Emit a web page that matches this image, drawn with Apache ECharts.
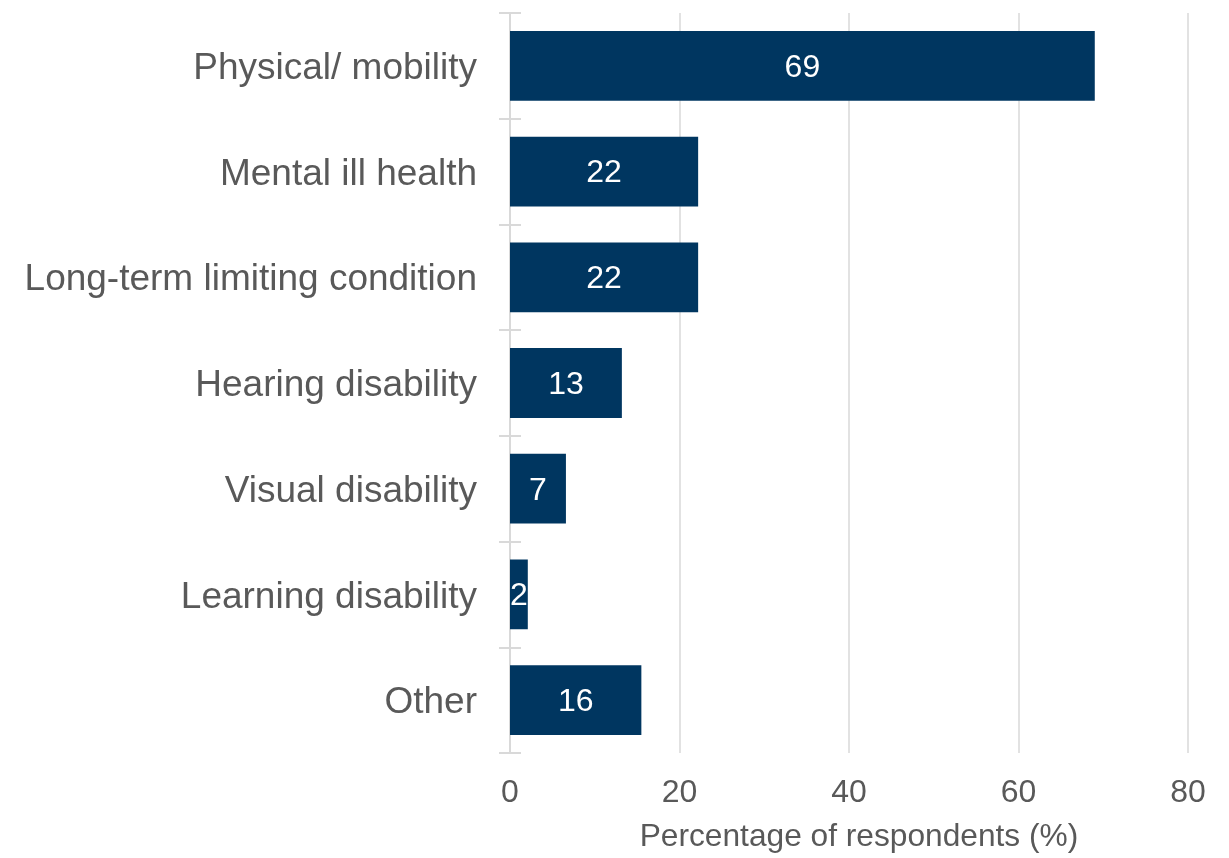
<!DOCTYPE html>
<html>
<head>
<meta charset="utf-8">
<script src="https://cdn.jsdelivr.net/npm/echarts@6/dist/echarts.min.js"></script>
<style>
html,body{margin:0;padding:0;background:#fff;}
#chart{width:1229px;height:858px;}
</style>
</head>
<body>
<div id="chart"></div>
<script>
const categories = ["Physical/ mobility","Mental ill health","Long-term limiting condition","Hearing disability","Visual disability","Learning disability","Other"];
const values = [69.0, 22.2, 22.2, 13.2, 6.6, 2.1, 15.5];
const valueLabels = ["69","22","22","13","7","2","16"];
const xTicks = [0, 20, 40, 60, 80];
const xAxisName = "Percentage of respondents (%)";

const font = '"Liberation Sans", Arial, sans-serif';
const chart = echarts.init(document.getElementById('chart'), null, {renderer:'canvas'});
chart.setOption({
  animation:false,
  grid:{left:510, right:41, top:13, bottom:102, containLabel:false},
  xAxis:{
    type:'value', min:xTicks[0], max:xTicks[xTicks.length-1], interval:20,
    axisLine:{show:false}, axisTick:{show:false},
    splitLine:{show:true, lineStyle:{color:'#d9d9d9', width:1.5}},
    axisLabel:{color:'#595959', fontSize:32, fontFamily:font, margin:24},
    name:xAxisName, nameLocation:'middle', nameGap:68,
    nameTextStyle:{color:'#595959', fontSize:31.7, fontFamily:font, padding:[0,0,0,20]}
  },
  yAxis:[{
    type:'category', data:categories, inverse:true,
    axisLine:{show:true, lineStyle:{color:'#d9d9d9', width:2}},
    axisTick:{show:false},
    axisLabel:{margin:33, formatter:v=>'{c|' + v + '}',
      rich:{c:{color:'#595959', fontSize:37, fontFamily:font, padding:[6,0,0,0]}}}
  },{
    type:'category', data:categories, inverse:true, position:'left', offset:-11,
    axisLine:{show:false},
    axisTick:{show:true, length:22, lineStyle:{color:'#d9d9d9', width:2}},
    axisLabel:{show:false}
  }],
  series:[{
    type:'bar', data:values, barCategoryGap:'34%',
    itemStyle:{color:'#003660'},
    label:{show:true, position:'inside', color:'#ffffff', fontSize:32, fontFamily:font,
      offset:[0,2], formatter:p=>valueLabels[p.dataIndex]}
  }]
});
</script>
</body>
</html>
